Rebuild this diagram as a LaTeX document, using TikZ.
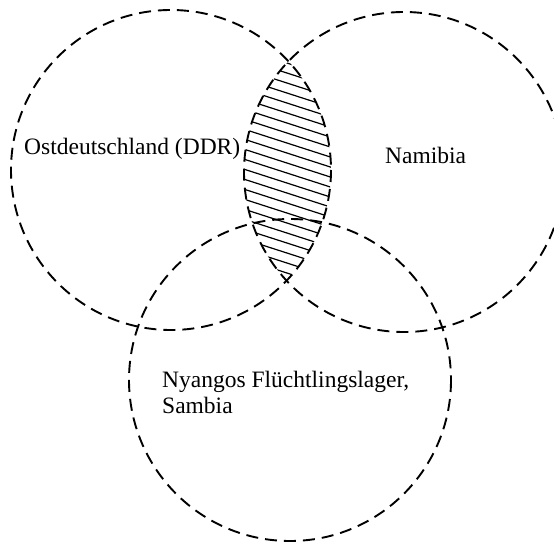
\documentclass[tikz,border=0pt]{standalone}
\usepackage{fontspec}
\setmainfont{Liberation Serif}
\usetikzlibrary{positioning}

\begin{document}
\begin{tikzpicture}[
  x=1pt, y=-1pt,
  set/.style={draw=black, line width=1.9pt, dash pattern=on 12pt off 7pt},
  hatch/.style={draw=black, line width=1.2pt},
  label/.style={font=\fontsize{23.5}{26}\selectfont, inner sep=0pt, align=left}
]
\useasboundingbox (0,0) rectangle (554,543);

% hatched overlap of the two upper sets
\begin{scope}
  \clip (171,170) circle (160);
  \clip (404,172) circle (160);
  \foreach \k in {-30,...,30}
    \draw[hatch] (200,{185+10*\k}) -- (380,{185+10*\k+58});
\end{scope}

% the three sets
\draw[set] (171,170) circle (160);
\draw[set] (404,172) circle (160);
\draw[set] (290,380) circle (161);

\node[label, anchor=west] (ddr) at (24,149) {Ostdeutschland (DDR)};
\node[label, anchor=west] (namibia) at (385,155) {Namibia};
\node[label, anchor=north west] (sambia) at (162,371) {Nyangos Flüchtlingslager,\\Sambia};

\end{tikzpicture}
\end{document}
